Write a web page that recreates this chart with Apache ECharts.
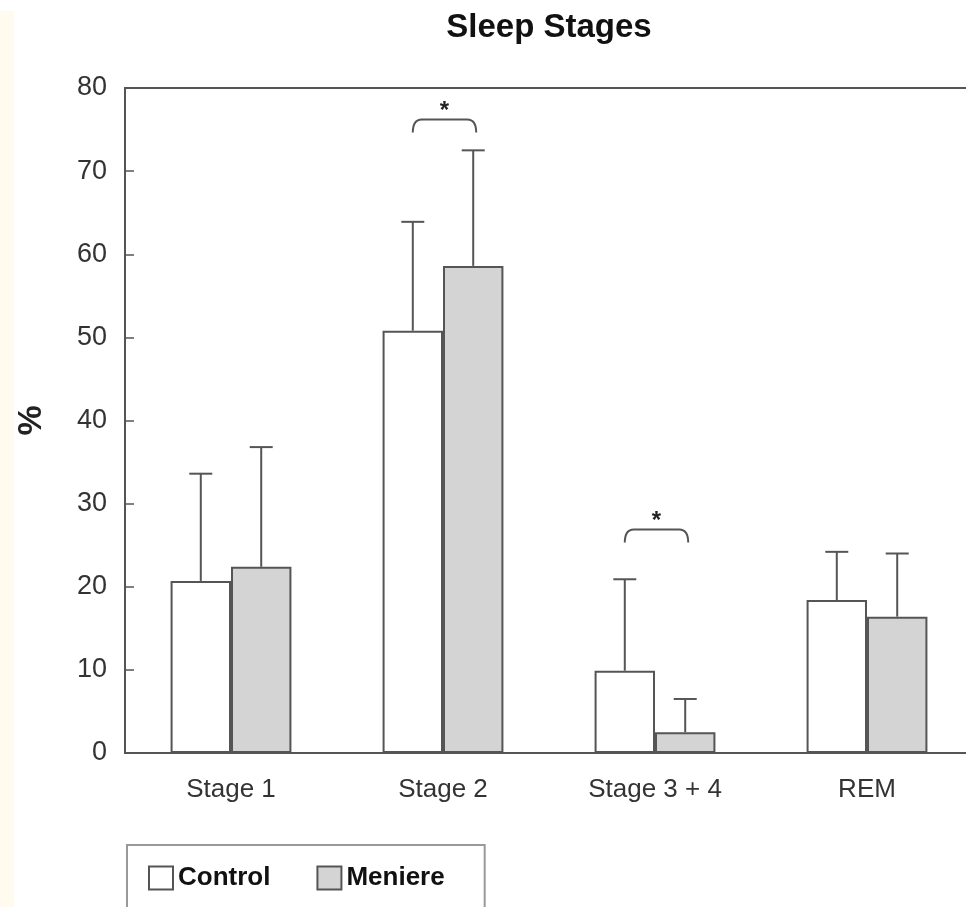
<!DOCTYPE html>
<html>
<head>
<meta charset="utf-8">
<script src="https://cdn.jsdelivr.net/npm/echarts@6/dist/echarts.min.js"></script>
<style>
  html, body { margin: 0; padding: 0; background: #fff; }
  #chart { width: 966px; height: 907px; }
</style>
</head>
<body>
<div id="chart"></div>
<script>
// 数据
const categories = ['Stage 1', 'Stage 2', 'Stage 3 + 4', 'REM']
const controlMean = [20.7, 50.8, 9.9, 18.4]
const controlUpper = [33.6, 63.9, 20.9, 24.2]
const meniereMean = [22.4, 58.6, 2.5, 16.4]
const meniereUpper = [36.8, 72.5, 6.5, 24.0]
const sigLevel = [null, 76.2, 26.9, null] // 显著性括号高度
const yTicks = [0, 10, 20, 30, 40, 50, 60, 70, 80]

const FONT = '"Liberation Sans", Arial, sans-serif'
const INK = '#555'
const CAT_GAP = 0.43

const chart = echarts.init(document.getElementById('chart'))

// 误差线（只画上半部分）
const errorRender = (side) => (params, api) => {
  const band = api.size([1, 0])[0]
  const barW = band * (1 - CAT_GAP) / 2
  const base = api.coord([api.value(0), api.value(1)])
  const top = api.coord([api.value(0), api.value(2)])
  const x = base[0] + side * barW / 2
  const cap = 11.5
  const style = { stroke: INK, lineWidth: 2 }
  return {
    type: 'group',
    children: [
      { type: 'line', shape: { x1: x, y1: base[1], x2: x, y2: top[1] }, style },
      { type: 'line', shape: { x1: x - cap, y1: top[1], x2: x + cap, y2: top[1] }, style }
    ]
  }
}

const bracketRender = (params, api) => {
  const band = api.size([1, 0])[0]
  const barW = band * (1 - CAT_GAP) / 2
  const p = api.coord([api.value(0), api.value(1)])
  const x1 = p[0] - barW / 2
  const x2 = p[0] + barW / 2 + 3
  const y = p[1]
  const d = 13
  return {
    type: 'group',
    children: [
      {
        type: 'path',
        shape: {
          pathData: `M${x1} ${y + d} Q${x1} ${y} ${x1 + 9} ${y} L${x2 - 9} ${y} Q${x2} ${y} ${x2} ${y + d}`
        },
        style: { stroke: INK, lineWidth: 2, fill: null }
      },
      {
        type: 'text',
        x: (x1 + x2) / 2,
        y: y - 8,
        style: {
          text: '*',
          fill: '#222',
          font: 'bold 24px ' + FONT,
          align: 'center',
          verticalAlign: 'middle'
        }
      }
    ]
  }
}

const option = {
  animation: false,
  backgroundColor: '#fff',
  title: {
    text: 'Sleep Stages',
    left: 549,
    top: 11,
    textAlign: 'center',
    padding: 0,
    textStyle: { fontFamily: FONT, fontWeight: 'bold', fontSize: 33, color: '#111' }
  },
  graphic: [
    { type: 'rect', left: 0, top: 11, shape: { width: 14, height: 900 }, style: { fill: '#FFFBEE' }, silent: true }
  ],
  legend: {
    data: ['Control', 'Meniere'],
    left: 127,
    top: 845,
    orient: 'horizontal',
    padding: [20, 40, 40, 21],
    itemGap: 46,
    itemWidth: 24,
    itemHeight: 23,
    icon: 'rect',
    borderColor: '#999',
    borderWidth: 2,
    borderRadius: 0,
    textStyle: { fontFamily: FONT, fontWeight: 'bold', fontSize: 26, color: '#111' }
  },
  grid: {
    left: 125,
    top: 88,
    right: -7,
    bottom: 154,
    outerBoundsMode: 'none',
    containLabel: false,
    show: true,
    borderColor: INK,
    borderWidth: 2
  },
  xAxis: {
    type: 'category',
    data: categories,
    axisLine: { lineStyle: { color: INK, width: 2 } },
    axisTick: { inside: true, length: 9, lineStyle: { color: INK, width: 1.5 } },
    axisLabel: { fontFamily: FONT, fontSize: 26, color: '#333', margin: 24 }
  },
  yAxis: {
    type: 'value',
    min: yTicks[0],
    max: yTicks[yTicks.length - 1],
    interval: 10,
    name: '%',
    nameLocation: 'middle',
    nameRotate: 90,
    nameGap: 76,
    nameTextStyle: { fontFamily: FONT, fontWeight: 'bold', fontSize: 34, color: '#222' },
    splitLine: { show: false },
    axisLine: { show: true, lineStyle: { color: INK, width: 2 } },
    axisTick: { show: true, inside: true, length: 9, lineStyle: { color: INK, width: 1.5 } },
    axisLabel: { fontFamily: FONT, fontSize: 27, color: '#333', margin: 18 }
  },
  series: [
    {
      name: 'Control',
      type: 'bar',
      data: controlMean,
      barGap: '0%',
      barCategoryGap: CAT_GAP * 100 + '%',
      itemStyle: { color: '#fff', borderColor: INK, borderWidth: 2 }
    },
    {
      name: 'Meniere',
      type: 'bar',
      data: meniereMean,
      itemStyle: { color: '#d4d4d4', borderColor: INK, borderWidth: 2 }
    },
    {
      type: 'custom',
      renderItem: errorRender(-1),
      data: categories.map((c, i) => [i, controlMean[i], controlUpper[i]]),
      z: 3
    },
    {
      type: 'custom',
      renderItem: errorRender(1),
      data: categories.map((c, i) => [i, meniereMean[i], meniereUpper[i]]),
      z: 3
    },
    {
      type: 'custom',
      renderItem: bracketRender,
      data: categories.map((c, i) => [i, sigLevel[i]]).filter(d => d[1] != null),
      z: 3
    }
  ]
}

chart.setOption(option)
</script>
</body>
</html>
